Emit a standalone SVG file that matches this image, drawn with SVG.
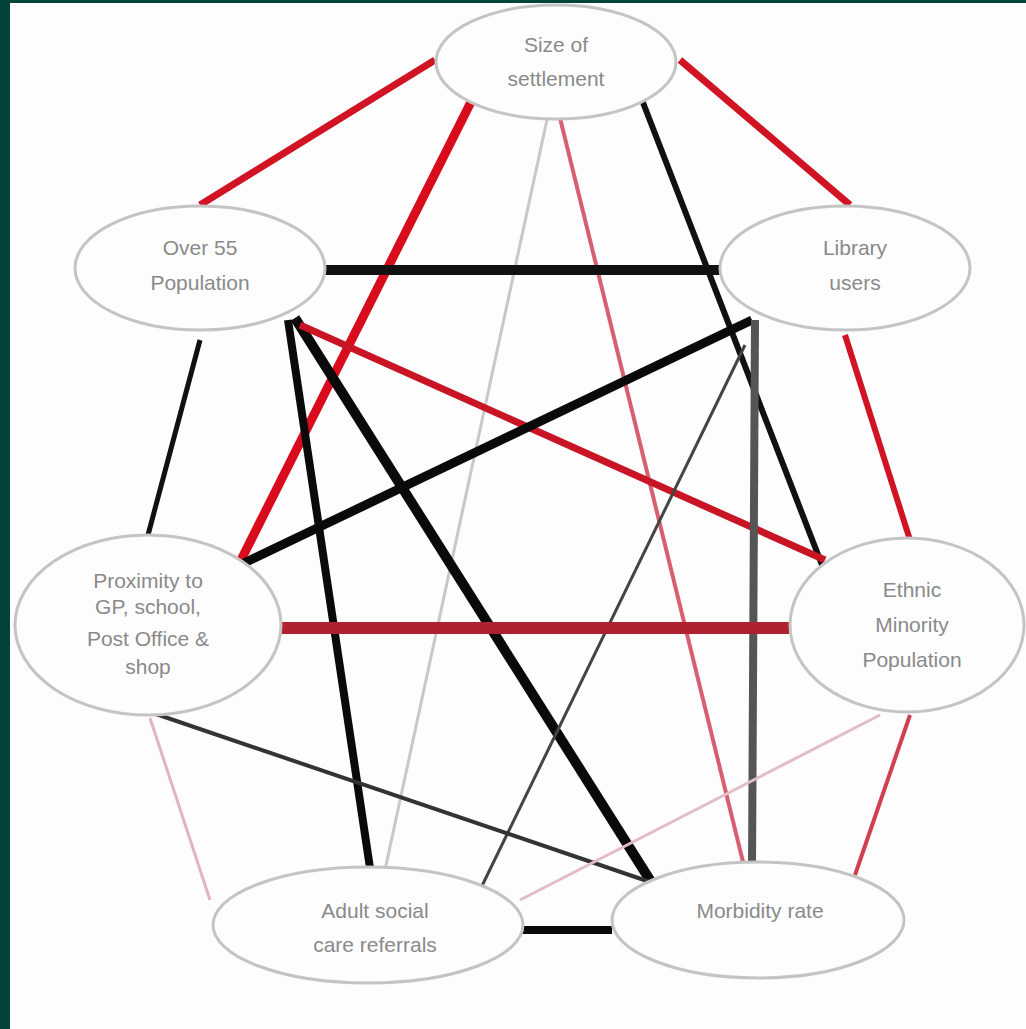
<svg xmlns="http://www.w3.org/2000/svg" width="1026" height="1029" viewBox="0 0 1026 1029">
<style>
.node ellipse{fill:#fdfdfd;stroke:#c4c4c4;stroke-width:3}
.node text{font-family:"Liberation Sans",Arial,sans-serif;font-size:21px;fill:#8a8a8a;text-anchor:middle}
.edges line{stroke-linecap:butt}
</style>
<rect x="0" y="0" width="1026" height="1029" fill="#02433a"/>
<rect x="10" y="3" width="1016" height="1026" fill="#fdfdfd"/>
<g id="connectors" class="edges">
<line x1="435" y1="60" x2="200" y2="205" stroke="#d01424" stroke-width="7"/>
<line x1="472" y1="100" x2="240" y2="562" stroke="#d80c1c" stroke-width="9"/>
<line x1="548" y1="115" x2="385" y2="870" stroke="#c8c8c8" stroke-width="3"/>
<line x1="560" y1="118" x2="745" y2="870" stroke="#d66070" stroke-width="4"/>
<line x1="642" y1="100" x2="822" y2="565" stroke="#111" stroke-width="6"/>
<line x1="680" y1="60" x2="850" y2="205" stroke="#d01424" stroke-width="7"/>
<line x1="322" y1="270" x2="720" y2="270" stroke="#111" stroke-width="10"/>
<line x1="200" y1="340" x2="148" y2="535" stroke="#111" stroke-width="5"/>
<line x1="288" y1="320" x2="370" y2="868" stroke="#0a0a0a" stroke-width="8"/>
<line x1="295" y1="318" x2="655" y2="888" stroke="#0a0a0a" stroke-width="10"/>
<line x1="300" y1="325" x2="825" y2="560" stroke="#c81424" stroke-width="7"/>
<line x1="752" y1="320" x2="240" y2="565" stroke="#0a0a0a" stroke-width="9"/>
<line x1="755" y1="320" x2="752" y2="868" stroke="#555" stroke-width="8"/>
<line x1="745" y1="345" x2="480" y2="890" stroke="#444" stroke-width="3"/>
<line x1="845" y1="335" x2="910" y2="540" stroke="#d01424" stroke-width="6"/>
<line x1="280" y1="628" x2="790" y2="628" stroke="#b02030" stroke-width="12"/>
<line x1="150" y1="712" x2="650" y2="882" stroke="#333" stroke-width="4"/>
<line x1="150" y1="718" x2="210" y2="900" stroke="#e4b4bc" stroke-width="3"/>
<line x1="880" y1="715" x2="520" y2="900" stroke="#e4bcc4" stroke-width="3"/>
<line x1="910" y1="715" x2="855" y2="875" stroke="#d04050" stroke-width="4"/>
<line x1="522" y1="930" x2="612" y2="930" stroke="#0a0a0a" stroke-width="8"/>
</g>
<g id="size" class="node"><ellipse cx="556" cy="62" rx="120" ry="57"/><text x="556" y="52">Size of</text><text x="556" y="86">settlement</text></g>
<g id="over55" class="node"><ellipse cx="200" cy="268" rx="125" ry="62"/><text x="200" y="255">Over 55</text><text x="200" y="290">Population</text></g>
<g id="library" class="node"><ellipse cx="845" cy="268" rx="125" ry="62"/><text x="855" y="255">Library</text><text x="855" y="290">users</text></g>
<g id="proximity" class="node"><ellipse cx="148" cy="625" rx="133" ry="90"/><text x="148" y="588">Proximity to</text><text x="148" y="614">GP, school,</text><text x="148" y="646">Post Office &amp;</text><text x="148" y="674">shop</text></g>
<g id="ethnic" class="node"><ellipse cx="907" cy="625" rx="117" ry="87"/><text x="912" y="597">Ethnic</text><text x="912" y="632">Minority</text><text x="912" y="667">Population</text></g>
<g id="adult" class="node"><ellipse cx="368" cy="925" rx="155" ry="58"/><text x="375" y="918">Adult social</text><text x="375" y="952">care referrals</text></g>
<g id="morbidity" class="node"><ellipse cx="758" cy="920" rx="146" ry="58"/><text x="760" y="918">Morbidity rate</text></g>
</svg>
